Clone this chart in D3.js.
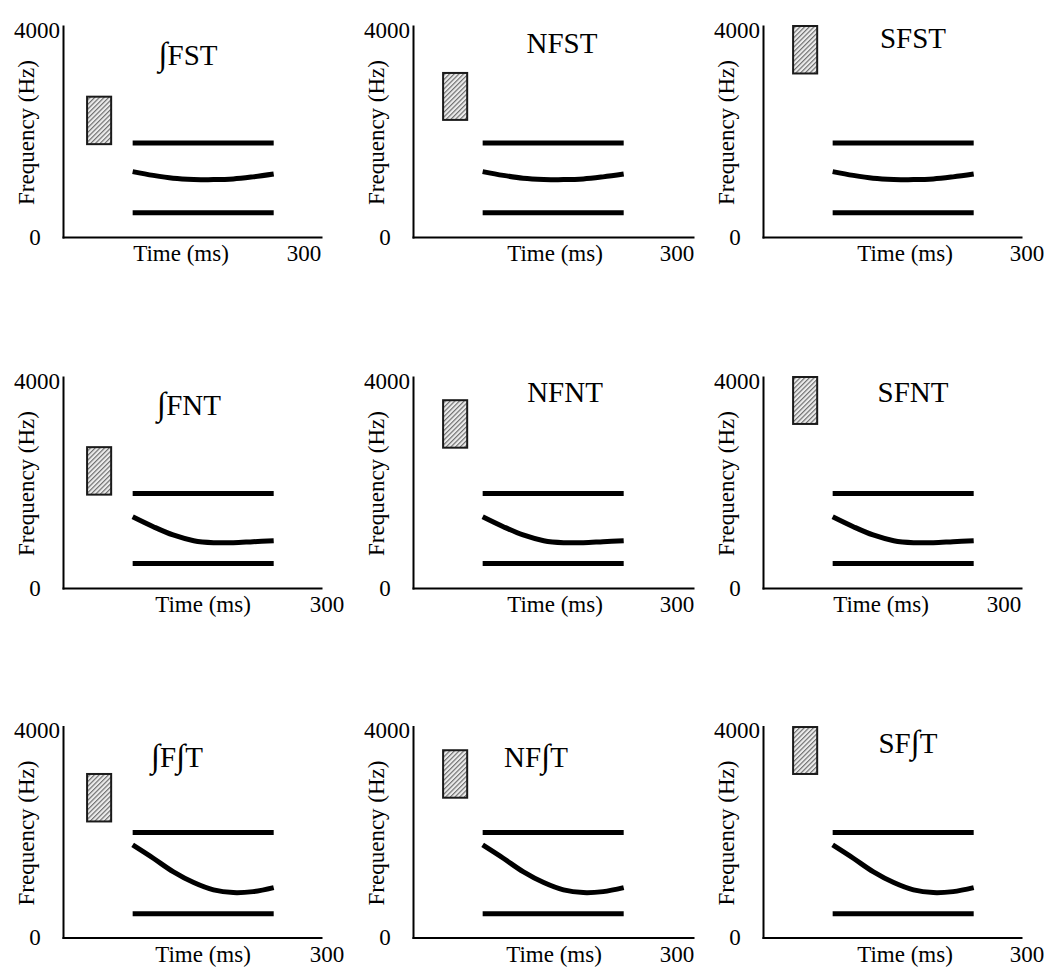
<!DOCTYPE html>
<html>
<head>
<meta charset="utf-8">
<script src="https://cdn.jsdelivr.net/npm/d3@7"></script>
<style>
  html, body { margin: 0; padding: 0; background: #fff; }
  svg { display: block; font-family: "Liberation Serif", "Times New Roman", serif; }
</style>
</head>
<body>
<svg id="chart" width="1049" height="972"></svg>
<script>
// Stimulus names, row by row: onset fricative (∫, N, S) × coda context (ST, NT, ∫T)
const titles = ["∫FST", "NFST", "SFST", "∫FNT", "NFNT", "SFNT", "∫F∫T", "NF∫T", "SF∫T"];

// Frication noise band of each panel (ms, Hz)
const noiseOn   = [28, 35, 35, 28, 35, 35, 28, 35, 35];
const noiseOff  = [56, 63, 63, 56, 63, 63, 56, 63, 63];
const noiseLow  = [1760, 2220, 3100, 1770, 2660, 3110, 2200, 2650, 3100];
const noiseHigh = [2660, 3110, 4000, 2670, 3560, 4000, 3100, 3550, 3990];

// Vowel formant tracks, one set per row (coda context)
const vowelTime = [81, 245];                          // ms, F1/F3 steady lines
const f2Time    = [81, 105, 128, 152, 175, 198, 221, 245];
const f1Row     = [460, 465, 450];                    // Hz
const f3Row     = [1780, 1790, 1990];                 // Hz
const f2Row = [
  [1240, 1168, 1115, 1092, 1088, 1100, 1140, 1194],   // ST
  [1350, 1162, 1005,  897,  859,  859,  878,  897],   // NT
  [1755, 1503, 1249, 1041,  902,  851,  870,  946]    // ∫T
];

// Axis annotation
const yTickLabels = ["0", "4000"];
const xTickLabel  = "300";
const yTitle = "Frequency (Hz)";
const xTitle = "Time (ms)";

// Placement of each panel's labels and axis length
const layout = [
  { tx: 188, ty: 65, timeX: 181, maxX: 304, axisEnd: 321 },
  { tx: 212, ty: 53, timeX: 205, maxX: 327, axisEnd: 343 },
  { tx: 213, ty: 48, timeX: 205, maxX: 327, axisEnd: 321 },
  { tx: 189, ty: 64, timeX: 203, maxX: 327, axisEnd: 321 },
  { tx: 215, ty: 51, timeX: 205, maxX: 327, axisEnd: 343 },
  { tx: 213, ty: 51, timeX: 181, maxX: 304, axisEnd: 321 },
  { tx: 177, ty: 66, timeX: 203, maxX: 327, axisEnd: 321 },
  { tx: 186, ty: 66, timeX: 204, maxX: 327, axisEnd: 343 },
  { tx: 208, ty: 52, timeX: 205, maxX: 327, axisEnd: 321 }
];

const colW = 350;
const rowY = [0, 351, 700.5];

const x = d3.scaleLinear().domain([0, 300]).range([63, 321]);
const y = d3.scaleLinear().domain([0, 4000]).range([237, 26]);

const svg = d3.select("#chart");

// Diagonal hatch for the noise bands
const hatch = svg.append("defs").append("pattern")
  .attr("id", "hatch")
  .attr("patternUnits", "userSpaceOnUse")
  .attr("width", 3.3).attr("height", 3.3)
  .attr("patternTransform", "rotate(45)");
hatch.append("rect").attr("width", 3.3).attr("height", 3.3).attr("fill", "#ececec");
hatch.append("line")
  .attr("x1", 0.6).attr("y1", 0).attr("x2", 0.6).attr("y2", 3.3)
  .attr("stroke", "#666").attr("stroke-width", 1.1);

const flat = d3.line().x(d => x(d[0])).y(d => y(d[1]));
const curved = d3.line().x(d => x(d[0])).y(d => y(d[1])).curve(d3.curveCatmullRom.alpha(0.5));

// Title text, with the integral-shaped esh drawn a little taller
function setTitle(sel, name) {
  name.split(/(∫)/).filter(s => s.length).forEach(part => {
    const t = sel.append("tspan").text(part);
    if (part === "∫") t.attr("font-size", 33);
  });
}

titles.forEach((name, i) => {
  const r = Math.floor(i / 3), c = i % 3;
  const L = layout[i];
  const g = svg.append("g").attr("transform", `translate(${c * colW},${rowY[r]})`);

  // Axes (lines only)
  const yAxis = g.append("g")
    .attr("transform", `translate(${x(0)},0)`)
    .call(d3.axisLeft(y).tickValues([]).tickSizeOuter(0));
  const xAxisScale = d3.scaleLinear().domain([0, 300]).range([x(0), L.axisEnd]);
  const xAxis = g.append("g")
    .attr("transform", `translate(0,${y(0)})`)
    .call(d3.axisBottom(xAxisScale).tickValues([]).tickSizeOuter(0));
  [yAxis, xAxis].forEach(a => a.select(".domain")
    .attr("stroke", "#000").attr("stroke-width", 2).attr("stroke-linecap", "square"));

  // Axis labels
  const small = g.append("g").attr("font-size", 23).attr("fill", "#000");
  small.append("text").attr("x", 35).attr("y", y(0)).attr("dy", "0.34em")
    .attr("text-anchor", "middle").text(yTickLabels[0]);
  small.append("text").attr("x", 37).attr("y", y(4000) + 4).attr("dy", "0.34em")
    .attr("text-anchor", "middle").text(yTickLabels[1]);
  small.append("text").attr("x", L.timeX).attr("y", y(0) + 24)
    .attr("text-anchor", "middle").text(xTitle);
  small.append("text").attr("x", L.maxX).attr("y", y(0) + 24)
    .attr("text-anchor", "middle").text(xTickLabel);
  small.append("text")
    .attr("transform", `translate(34,${(y(0) + y(4000)) / 2 + 1}) rotate(-90)`)
    .attr("text-anchor", "middle").text(yTitle);

  // Panel title
  g.append("text").attr("x", L.tx).attr("y", L.ty)
    .attr("text-anchor", "middle").attr("font-size", 29)
    .call(setTitle, name);

  // Frication noise
  g.append("rect")
    .attr("x", x(noiseOn[i]))
    .attr("y", y(noiseHigh[i]))
    .attr("width", x(noiseOff[i]) - x(noiseOn[i]))
    .attr("height", y(noiseLow[i]) - y(noiseHigh[i]))
    .attr("fill", "url(#hatch)")
    .attr("stroke", "#1a1a1a").attr("stroke-width", 2);

  // Formants
  const fmt = g.append("g").attr("fill", "none").attr("stroke", "#000")
    .attr("stroke-width", 5).attr("stroke-linecap", "butt");
  fmt.append("path").attr("d", flat(vowelTime.map(t => [t, f1Row[r]])));
  fmt.append("path").attr("d", flat(vowelTime.map(t => [t, f3Row[r]])));
  fmt.append("path").attr("d", curved(f2Time.map((t, k) => [t, f2Row[r][k]])));
});
</script>
</body>
</html>
